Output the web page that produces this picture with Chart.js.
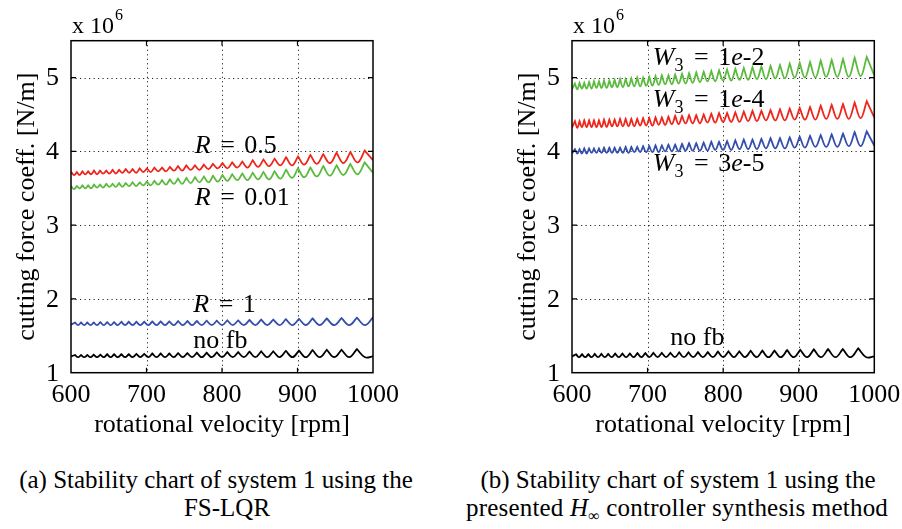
<!DOCTYPE html>
<html><head><meta charset="utf-8">
<script src="https://cdn.jsdelivr.net/npm/chart.js@4.4.1/dist/chart.umd.min.js"></script>
<style>
html,body{margin:0;padding:0;background:#fff;width:902px;height:529px;overflow:hidden;}
canvas{position:absolute;top:0;}
#c1{left:0}#c2{left:451px}
.cap{position:absolute;width:500px;font-family:'Liberation Serif','Times New Roman',serif;font-size:25px;line-height:25px;white-space:nowrap;text-align:center;color:#000;}
</style></head><body>
<canvas id="c1" width="451" height="450"></canvas>
<canvas id="c2" width="451" height="450"></canvas>
<div class="cap" style="left:-34px;top:467px">(a) Stability chart of system 1 using the</div>
<div class="cap" style="left:-23px;top:495px">FS-LQR</div>
<div class="cap" style="left:428px;top:467px">(b) Stability chart of system 1 using the</div>
<div class="cap" style="left:427px;top:495px;letter-spacing:0.2px">presented <i>H</i><span style="font-size:16px;position:relative;top:5px">∞</span> controller synthesis method</div>
<script>
// ---------- data (values in units of 10^6 N/m) ----------
const xTicks = [600, 700, 800, 900, 1000];
const yTicks = [1, 2, 3, 4, 5];

// lobe cusp / trough positions [rpm]
const rpmA = [600, 605.3, 609.3, 613.3, 617.5, 621.6, 625.9, 630.1, 634.5, 638.9, 643.4, 647.9, 652.5, 657.1, 661.9, 666.7, 671.6, 676.5, 681.6, 686.6, 691.8, 697.0, 702.4, 707.7, 713.3, 718.8, 724.5, 730.2, 736.1, 741.9, 748.0, 754.1, 760.4, 766.7, 773.2, 779.7, 786.4, 793.1, 800.1, 807.0, 814.2, 821.4, 828.9, 836.4, 844.2, 851.9, 859.9, 867.9, 876.3, 884.6, 893.3, 902.0, 911.0, 920.0, 929.4, 938.8, 948.6, 958.3, 968.5, 978.7, 989.4, 1000];
const rpmB = [600, 604.1, 607.7, 611.4, 615.1, 618.9, 622.7, 626.6, 630.5, 634.5, 638.5, 642.6, 646.7, 650.9, 655.1, 659.4, 663.7, 668.1, 672.5, 677.1, 681.6, 686.3, 691.0, 695.8, 700.6, 705.5, 710.4, 715.5, 720.6, 725.8, 731.0, 736.4, 741.8, 747.3, 752.8, 758.5, 764.2, 770.1, 776.0, 782.1, 788.1, 794.4, 800.6, 807.1, 813.5, 820.2, 826.9, 833.8, 840.7, 847.8, 854.9, 862.3, 869.7, 877.3, 884.9, 892.8, 900.7, 908.9, 917.1, 925.6, 934.1, 942.9, 951.7, 960.9, 970.0, 979.5, 989.0, 1000];
const rpmC = [600, 603.9, 607.0, 610.0, 613.1, 616.2, 619.4, 622.6, 625.9, 629.1, 632.4, 635.7, 639.1, 642.4, 645.9, 649.4, 652.9, 656.4, 660.0, 663.6, 667.3, 671.0, 674.8, 678.5, 682.4, 686.3, 690.2, 694.1, 698.2, 702.2, 706.4, 710.5, 714.7, 718.9, 723.3, 727.6, 732.1, 736.5, 741.1, 745.6, 750.3, 754.9, 759.7, 764.4, 769.3, 774.2, 779.3, 784.3, 789.5, 794.6, 799.9, 805.2, 810.7, 816.1, 821.7, 827.3, 833.1, 838.8, 844.7, 850.6, 856.7, 862.7, 869.0, 875.2, 881.7, 888.1, 894.7, 901.3, 908.2, 915.0, 922.1, 929.1, 936.4, 943.6, 951.1, 958.6, 966.3, 974.0, 982.0, 990.0, 1000];

// (a) FS-LQR
const lqrNoFb = [1.22,1.24, 1.21,1.24, 1.21,1.24, 1.21,1.245, 1.21,1.245, 1.21,1.25, 1.21,1.25, 1.21,1.25, 1.21,1.25, 1.21,1.255, 1.21,1.255, 1.21,1.26, 1.21,1.26, 1.21,1.26, 1.21,1.265, 1.21,1.265, 1.21,1.27, 1.21,1.27, 1.21,1.275, 1.21,1.28, 1.21,1.28, 1.21,1.285, 1.21,1.29, 1.21,1.29, 1.21,1.295, 1.21,1.30, 1.21,1.305, 1.21,1.31, 1.21,1.31, 1.21,1.32, 1.21,1.22];
const lqrR1 = [1.65,1.68, 1.645,1.68, 1.645,1.68, 1.645,1.68, 1.645,1.685, 1.645,1.685, 1.645,1.685, 1.645,1.69, 1.645,1.69, 1.645,1.69, 1.645,1.69, 1.645,1.695, 1.645,1.695, 1.645,1.695, 1.645,1.70, 1.645,1.70, 1.645,1.70, 1.645,1.705, 1.645,1.705, 1.645,1.71, 1.645,1.71, 1.645,1.715, 1.645,1.72, 1.645,1.72, 1.645,1.725, 1.645,1.73, 1.645,1.735, 1.645,1.735, 1.645,1.74, 1.645,1.745, 1.645,1.75];
const lqrR05 = [3.72,3.68, 3.72,3.68, 3.73,3.69, 3.73,3.69, 3.74,3.69, 3.74,3.70, 3.74,3.70, 3.75,3.70, 3.75,3.71, 3.76,3.71, 3.76,3.71, 3.77,3.72, 3.77,3.72, 3.78,3.73, 3.78,3.73, 3.79,3.74, 3.80,3.74, 3.81,3.75, 3.81,3.75, 3.82,3.76, 3.83,3.77, 3.84,3.77, 3.85,3.78, 3.86,3.78, 3.88,3.79, 3.89,3.80, 3.90,3.81, 3.92,3.81, 3.93,3.82, 3.95,3.83, 3.96,3.84, 3.98,3.84, 3.99,3.85, 4.01,3.88];
const lqrR001 = [3.53,3.49, 3.53,3.50, 3.54,3.50, 3.54,3.50, 3.55,3.51, 3.55,3.51, 3.56,3.52, 3.56,3.52, 3.57,3.52, 3.57,3.53, 3.58,3.53, 3.58,3.54, 3.59,3.54, 3.60,3.55, 3.61,3.55, 3.62,3.56, 3.63,3.56, 3.64,3.57, 3.65,3.58, 3.66,3.58, 3.67,3.59, 3.68,3.60, 3.69,3.61, 3.70,3.61, 3.71,3.62, 3.72,3.62, 3.73,3.63, 3.75,3.64, 3.77,3.65, 3.78,3.66, 3.80,3.67, 3.81,3.68, 3.83,3.69, 3.85,3.71];

// (b) H-infinity synthesis
const hinfNoFb = [1.22,1.25, 1.21,1.25, 1.21,1.25, 1.21,1.255, 1.21,1.255, 1.21,1.255, 1.21,1.26, 1.21,1.26, 1.21,1.26, 1.21,1.265, 1.21,1.265, 1.21,1.27, 1.21,1.27, 1.21,1.27, 1.21,1.275, 1.21,1.275, 1.21,1.28, 1.21,1.28, 1.21,1.285, 1.21,1.29, 1.21,1.29, 1.21,1.295, 1.21,1.30, 1.21,1.30, 1.21,1.305, 1.21,1.31, 1.21,1.315, 1.21,1.32, 1.21,1.32, 1.21,1.33, 1.21,1.22];
const hinfW1e2 = [4.84, 4.92,4.84, 4.93,4.85, 4.93,4.85, 4.94,4.85, 4.95,4.86, 4.95,4.86, 4.96,4.86, 4.96,4.87, 4.97,4.87, 4.98,4.87, 4.98,4.88, 4.99,4.88, 5.00,4.88, 5.00,4.89, 5.01,4.89, 5.02,4.90, 5.03,4.91, 5.03,4.91, 5.04,4.92, 5.05,4.92, 5.06,4.93, 5.07,4.94, 5.08,4.95, 5.09,4.95, 5.10,4.96, 5.11,4.96, 5.12,4.97, 5.13,4.97, 5.14,4.98, 5.15,4.98, 5.16,4.99, 5.17,4.99, 5.19,5.00, 5.20,5.00, 5.21,5.00, 5.23,5.01, 5.24,5.01, 5.25,5.01, 5.27,5.02, 5.28,5.03];
const hinfW1e4 = [4.32, 4.41,4.32, 4.41,4.33, 4.42,4.33, 4.42,4.33, 4.42,4.33, 4.42,4.33, 4.43,4.33, 4.43,4.34, 4.43,4.34, 4.44,4.34, 4.44,4.34, 4.44,4.34, 4.44,4.35, 4.45,4.35, 4.45,4.35, 4.46,4.36, 4.46,4.36, 4.47,4.37, 4.48,4.37, 4.48,4.38, 4.49,4.38, 4.49,4.38, 4.50,4.39, 4.51,4.39, 4.52,4.40, 4.52,4.40, 4.53,4.40, 4.54,4.41, 4.55,4.41, 4.55,4.42, 4.56,4.42, 4.57,4.42, 4.58,4.43, 4.59,4.43, 4.60,4.43, 4.62,4.44, 4.63,4.44, 4.64,4.44, 4.66,4.45, 4.68,4.46];
const hinfW3e5 = [3.97, 4.03,3.97, 4.03,3.97, 4.04,3.97, 4.04,3.98, 4.04,3.98, 4.04,3.98, 4.05,3.98, 4.05,3.98, 4.05,3.98, 4.05,3.98, 4.06,3.98, 4.06,3.99, 4.06,3.99, 4.07,3.99, 4.07,3.99, 4.08,3.99, 4.08,4.00, 4.09,4.00, 4.09,4.00, 4.10,4.01, 4.11,4.01, 4.11,4.01, 4.12,4.01, 4.13,4.02, 4.13,4.02, 4.14,4.02, 4.15,4.03, 4.16,4.03, 4.16,4.03, 4.17,4.04, 4.18,4.04, 4.18,4.04, 4.19,4.05, 4.20,4.05, 4.21,4.06, 4.22,4.06, 4.23,4.06, 4.24,4.07, 4.26,4.07, 4.27,4.08];

// in-plot text labels: anchor (rpm, value) = left end of the text baseline
const labelsA = [
  {x: 764, y: 3.975, parts: [{t: 'R', it: 1}, {t: '=', gap: 1}, {t: '0.5'}]},
  {x: 764, y: 3.27,  parts: [{t: 'R', it: 1}, {t: '=', gap: 1}, {t: '0.01'}]},
  {x: 762, y: 1.82,  parts: [{t: 'R', it: 1}, {t: '=', gap: 1}, {t: '1'}]},
  {x: 762, y: 1.33,  parts: [{t: 'no fb'}]}
];
const labelsB = [
  {x: 707, y: 5.17,  parts: [{t: 'W', it: 1}, {t: '3', sub: 1}, {t: '=', gap: 1}, {t: '1'}, {t: 'e', it: 1}, {t: '-2'}]},
  {x: 707, y: 4.595, parts: [{t: 'W', it: 1}, {t: '3', sub: 1}, {t: '=', gap: 1}, {t: '1'}, {t: 'e', it: 1}, {t: '-4'}]},
  {x: 707, y: 3.74,  parts: [{t: 'W', it: 1}, {t: '3', sub: 1}, {t: '=', gap: 1}, {t: '3'}, {t: 'e', it: 1}, {t: '-5'}]},
  {x: 730, y: 1.373, parts: [{t: 'no fb'}]}
];

// ---------- drawing ----------
const FAM = "'Liberation Serif', 'Times New Roman', serif";
const RED = 'rgb(238,38,28)', GREEN = 'rgb(92,186,62)', BLUE = 'rgb(52,78,172)', BLACK = '#000';

// cusps (local maxima) are repeated so that the spline keeps a sharp tip
function lobes(rpm, vals) {
  const pts = [];
  for (let i = 0; i < rpm.length; i++) {
    pts.push({x: rpm[i], y: vals[i]});
    if (i > 0 && i < rpm.length - 1 && vals[i] > vals[i - 1] && vals[i] > vals[i + 1]) pts.push({x: rpm[i], y: vals[i]});
  }
  return pts;
}

const deco = {
  id: 'deco',
  beforeDatasetsDraw(chart) {
    const {ctx, chartArea: a, scales: {x, y}} = chart;
    ctx.save();
    ctx.strokeStyle = 'rgba(0,0,0,0.85)';
    ctx.lineWidth = 1;
    ctx.setLineDash([1.2, 3.3]);
    xTicks.slice(1, -1).forEach(v => {
      const px = Math.round(x.getPixelForValue(v)) + 0.5;
      ctx.beginPath(); ctx.moveTo(px, a.top); ctx.lineTo(px, a.bottom); ctx.stroke();
    });
    yTicks.slice(1).forEach(v => {
      const py = Math.round(y.getPixelForValue(v)) + 0.5;
      ctx.beginPath(); ctx.moveTo(a.left, py); ctx.lineTo(a.right, py); ctx.stroke();
    });
    ctx.restore();
  },
  afterDatasetsDraw(chart, args, opts) {
    const {ctx, chartArea: a, scales: {x, y}} = chart;
    ctx.save();
    ctx.setLineDash([]);
    ctx.strokeStyle = '#000';
    ctx.lineWidth = 1.5;
    ctx.strokeRect(a.left, a.top, a.right - a.left, a.bottom - a.top);
    ctx.lineWidth = 1.2;
    const L = 5;
    xTicks.slice(1, -1).forEach(v => {
      const px = x.getPixelForValue(v);
      ctx.beginPath(); ctx.moveTo(px, a.bottom); ctx.lineTo(px, a.bottom - L);
      ctx.moveTo(px, a.top); ctx.lineTo(px, a.top + L); ctx.stroke();
    });
    yTicks.slice(1).forEach(v => {
      const py = y.getPixelForValue(v);
      ctx.beginPath(); ctx.moveTo(a.left, py); ctx.lineTo(a.left + L, py);
      ctx.moveTo(a.right, py); ctx.lineTo(a.right - L, py); ctx.stroke();
    });
    // exponent
    ctx.fillStyle = '#000';
    ctx.textAlign = 'left';
    ctx.textBaseline = 'alphabetic';
    ctx.font = '24px ' + FAM;
    ctx.fillText('x 10', a.left + 1, 33);
    const w = ctx.measureText('x 10').width;
    ctx.font = '16px ' + FAM;
    ctx.fillText('6', a.left + 1 + w + 1, 20);
    // labels
    (opts.labels || []).forEach(lb => {
      let cx = x.getPixelForValue(lb.x);
      const by = y.getPixelForValue(lb.y);
      lb.parts.forEach(p => {
        const size = p.sub ? 18 : 26;
        ctx.font = (p.it ? 'italic ' : '') + size + 'px ' + FAM;
        if (p.gap) cx += 9.5;
        ctx.fillText(p.t, cx, by + (p.sub ? 6 : 0));
        cx += ctx.measureText(p.t).width + (p.gap ? 9.5 : 0) + (p.sub ? 1 : 0);
      });
    });
    ctx.restore();
  }
};

function makeChart(id, datasets, labels, padLeft, padRight) {
  return new Chart(document.getElementById(id), {
    type: 'line',
    data: {datasets},
    plugins: [deco],
    options: {
      responsive: false, animation: false, devicePixelRatio: 1,
      layout: {padding: {left: padLeft, right: padRight, top: 40.7, bottom: 0}},
      plugins: {legend: {display: false}, tooltip: {enabled: false}, deco: {labels}},
      elements: {point: {radius: 0}, line: {tension: 0.4, borderWidth: 1.8, fill: false}},
      scales: {
        x: {
          type: 'linear', min: 600, max: 1000,
          grid: {display: false}, border: {display: false},
          afterBuildTicks: s => { s.ticks = xTicks.map(v => ({value: v})); },
          afterFit: s => { s.height = 77.3; s.paddingLeft = 0; s.paddingRight = 0; },
          ticks: {font: {family: FAM, size: 26}, color: '#000', padding: -1, maxRotation: 0, autoSkip: false, callback: v => String(v)},
          title: {display: true, text: 'rotational velocity [rpm]', color: '#000', font: {family: FAM, size: 26}, padding: {top: 0, bottom: 9}}
        },
        y: {
          type: 'linear', min: 1, max: 5.5,
          grid: {display: false}, border: {display: false},
          afterBuildTicks: s => { s.ticks = yTicks.map(v => ({value: v})); },
          afterFit: s => { s.width = 71; },
          ticks: {font: {family: FAM, size: 26}, color: '#000', padding: 4, labelOffset: 1, autoSkip: false, callback: v => String(v)},
          title: {display: true, text: 'cutting force coeff. [N/m]', color: '#000', font: {family: FAM, size: 26}, padding: {top: 12, bottom: 0}}
        }
      }
    }
  });
}

makeChart('c1', [
  {data: lobes(rpmB, lqrR05), borderColor: RED},
  {data: lobes(rpmB, lqrR001), borderColor: GREEN},
  {data: lobes(rpmA, lqrR1), borderColor: BLUE},
  {data: lobes(rpmA, lqrNoFb), borderColor: BLACK}
], labelsA, 0, 78);

makeChart('c2', [
  {data: lobes(rpmC, hinfW1e2), borderColor: GREEN},
  {data: lobes(rpmC, hinfW1e4), borderColor: RED},
  {data: lobes(rpmC, hinfW3e5), borderColor: BLUE},
  {data: lobes(rpmA, hinfNoFb), borderColor: BLACK}
], labelsB, 50, 27.7);
</script>
</body></html>
